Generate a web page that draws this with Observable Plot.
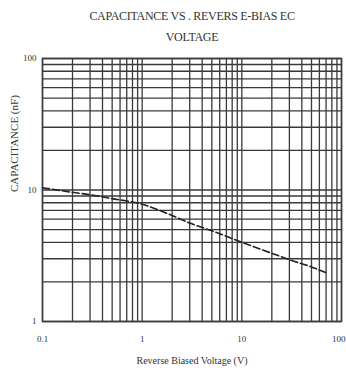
<!DOCTYPE html>
<html>
<head>
<meta charset="utf-8">
<script src="https://cdn.jsdelivr.net/npm/d3@7"></script>
<script src="https://cdn.jsdelivr.net/npm/@observablehq/plot@0.6"></script>
<style>
  body { margin: 0; background: #fff; }
  #title { width: 346px; height: 48px; box-sizing: border-box; padding-top: 6px; padding-left: 38px;
    text-align: center; font-family: "Liberation Serif", serif; font-size: 12px; line-height: 21px;
    color: #333; letter-spacing: -0.3px; }
  svg { display: block; }
</style>
</head>
<body>
<div id="title">CAPACITANCE VS . REVERS E-BIAS EC<br>VOLTAGE</div>
<div id="chart"></div>
<script>
const voltage = [0.1, 0.2, 0.3, 0.5, 1, 2, 3, 5, 10, 20, 30, 50, 70];
const capacitance = [10.4, 9.6, 9.2, 8.6, 7.8, 6.4, 5.6, 4.9, 4.0, 3.3, 2.95, 2.6, 2.35];
const xTicks = [0.1, 1, 10, 100];
const xTickLabels = ["0.1", "1", "10", "100"];
const yTicks = [1, 10, 100];
const yTickLabels = ["1", "10", "100"];
const xLabel = "Reverse Biased Voltage (V)";
const yLabel = "CAPACITANCE (nF)";

const data = voltage.map((v, i) => ({v, c: capacitance[i]}));
const xGrid = [];
for (const d of [0.1, 1, 10]) for (let m = 1; m <= 9; m++) xGrid.push(+(d * m).toPrecision(3));
xGrid.push(100);
const yGrid = [];
for (const d of [1, 10]) for (let m = 1; m <= 9; m++) yGrid.push(d * m);
yGrid.push(100);
const fmtX = (d) => xTickLabels[xTicks.indexOf(d)];
const fmtY = (d) => yTickLabels[yTicks.indexOf(d)];

const chart = Plot.plot({
  width: 346,
  height: 331,
  marginLeft: 42,
  marginRight: 5,
  marginTop: 10,
  marginBottom: 58,
  style: {fontFamily: "Liberation Serif, serif", fontSize: "9px", color: "#333"},
  x: {type: "log", domain: [0.1, 100], label: null},
  y: {type: "log", domain: [1, 100], label: null},
  marks: [
    Plot.ruleX(xGrid, {stroke: "#3a3a3a", strokeWidth: 1.3}),
    Plot.ruleY(yGrid, {stroke: "#3a3a3a", strokeWidth: 1.3}),
    Plot.frame({stroke: "#3a3a3a", strokeWidth: 1.5}),
    Plot.line(data, {x: "v", y: "c", stroke: "#222", strokeWidth: 1.6, strokeDasharray: "7,3", curve: "monotone-x"}),
    Plot.axisX({ticks: xTicks.slice(0, 3), tickFormat: fmtX, tickSize: 0, tickPadding: 14, label: null}),
    Plot.axisX({ticks: xTicks.slice(3), tickFormat: fmtX, tickSize: 0, tickPadding: 14, textAnchor: "end", dx: 4, label: null}),
    Plot.axisY({ticks: yTicks, tickFormat: fmtY, tickSize: 0, tickPadding: 6, label: null}),
    Plot.text([xLabel], {frameAnchor: "bottom", dy: 42, fontSize: 10, fill: "#333"}),
    Plot.text([yLabel], {frameAnchor: "left", dx: -28, dy: 2, rotate: -90, fontSize: 11, fill: "#333"})
  ]
});
document.getElementById("chart").appendChild(chart);
</script>
</body>
</html>
